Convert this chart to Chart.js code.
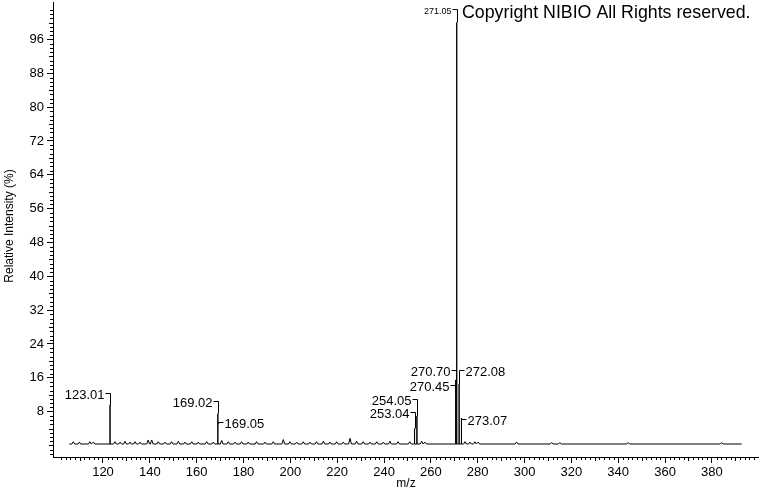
<!DOCTYPE html>
<html>
<head>
<meta charset="utf-8">
<script src="https://cdn.jsdelivr.net/npm/chart.js@4.4.1/dist/chart.umd.min.js"></script>
<style>
  html, body { margin: 0; padding: 0; background: #fff; }
</style>
</head>
<body>
<canvas id="spectrum" width="760" height="492"></canvas>
<script>
// labelled peaks
const peakMz = [123.01, 169.02, 169.05, 253.04, 254.05, 270.45, 270.70, 271.05, 272.08, 273.07];
const peakIntensity = [9.6, 7.5, 5.0, 4.0, 7.0, 14.0, 15.5, 100, 14.5, 6.5];
const peakLabels = ["123.01", "169.02", "169.05", "253.04", "254.05", "270.45", "270.70", "271.05", "272.08", "273.07"];

// small unlabelled bumps on the baseline
const noiseMz = [107.3, 109.9, 114.4, 115.9, 125.1, 127.3, 129.4, 131.5, 133.7, 135.8,
  139.3, 140.8, 143.6, 146.5, 149.3, 152.2, 155.0, 157.9, 160.7, 164.3,
  167.1, 170.7, 173.5, 176.4, 179.2, 182.0, 185.6, 189.2, 192.7, 197.0,
  199.8, 202.7, 205.5, 208.4, 211.2, 214.1, 216.9, 219.8, 222.6, 225.5,
  228.3, 231.1, 234.0, 236.9, 239.7, 242.5, 246.0, 251.0, 256.1, 257.5,
  274.6, 276.7, 278.8, 280.2, 296.6, 311.6, 315.1, 344.3, 384.2];
const noiseIntensity = [0.9, 0.8, 0.9, 0.8, 0.9, 0.8, 1.0, 0.8, 0.9, 0.8,
  1.3, 1.3, 0.9, 0.8, 0.9, 1.0, 0.8, 0.9, 0.8, 0.9,
  0.8, 1.2, 0.9, 0.8, 0.9, 0.8, 0.9, 0.8, 0.9, 1.4,
  0.9, 0.8, 0.9, 0.8, 0.9, 1.0, 0.8, 0.9, 0.8, 1.7,
  1.0, 0.9, 0.8, 0.9, 0.8, 1.0, 0.9, 0.9, 1.0, 0.8,
  0.9, 0.8, 0.9, 0.8, 0.8, 0.7, 0.7, 0.7, 0.7];

const baselineLevel = 0.35;
const profileRange = [105.6, 392.7];

const xTickLabels = [120, 140, 160, 180, 200, 220, 240, 260, 280, 300, 320, 340, 360, 380];
const yTickLabels = [8, 16, 24, 32, 40, 48, 56, 64, 72, 80, 88, 96];

// where each peak label sits (side of the stick, bracket height in %)
const labelLayout = [
  { side: "left", y: 12.3 },
  { side: "left", y: 10.5 },
  { side: "right", y: 5.6 },
  { side: "left", y: 7.9 },
  { side: "left", y: 11.0 },
  { side: "left", y: 14.3 },
  { side: "left", y: 17.8 },
  { side: "left", y: 103.2, small: true },
  { side: "right", y: 17.8 },
  { side: "right", y: 6.3 }
];

const FONT = "'Liberation Sans', Arial, sans-serif";

function buildProfile() {
  const marks = [];
  noiseMz.forEach((m, i) => marks.push({ m, h: noiseIntensity[i], w: 0.6 }));
  peakMz.forEach((m, i) => marks.push({ m, h: peakIntensity[i], w: 0 }));
  marks.sort((a, b) => a.m - b.m);
  const pts = [{ x: profileRange[0], y: baselineLevel }];
  marks.forEach(k => {
    pts.push({ x: k.m - k.w, y: baselineLevel });
    pts.push({ x: k.m, y: k.h });
    pts.push({ x: k.m + k.w, y: baselineLevel });
  });
  pts.push({ x: profileRange[1], y: baselineLevel });
  return pts;
}

const decorations = {
  id: "decorations",
  afterDraw(chart) {
    const ctx = chart.ctx;
    const xs = chart.scales.x, ys = chart.scales.y;
    const area = chart.chartArea;
    ctx.save();
    ctx.strokeStyle = "#000";
    ctx.fillStyle = "#000";
    ctx.lineWidth = 1;

    // minor ticks
    ctx.beginPath();
    for (let v = 100; v <= 398; v += 2) {
      if (v % 20 === 0) continue;
      const px = Math.round(xs.getPixelForValue(v)) + 0.5;
      ctx.moveTo(px, area.bottom);
      ctx.lineTo(px, area.bottom + (v % 10 === 0 ? 4 : 3));
    }
    for (let v = -2; v <= 104; v++) {
      if (v % 8 === 0 && v > 0) continue;
      const py = Math.round(ys.getPixelForValue(v)) + 0.5;
      ctx.moveTo(area.left, py);
      ctx.lineTo(area.left - (v % 4 === 0 ? 4 : 3), py);
    }
    ctx.stroke();

    // peak labels with brackets
    peakLabels.forEach((txt, i) => {
      const lay = labelLayout[i];
      const px = Math.round(xs.getPixelForValue(peakMz[i])) + 0.5;
      const by = Math.round(ys.getPixelForValue(lay.y)) + 0.5;
      const top = ys.getPixelForValue(peakIntensity[i]);
      const dir = lay.side === "left" ? -1 : 1;
      ctx.beginPath();
      ctx.moveTo(px + dir * 5, by);
      ctx.lineTo(px, by);
      if (top > by) ctx.lineTo(px, top);
      ctx.stroke();
      ctx.font = (lay.small ? "9px " : "13px ") + FONT;
      ctx.textAlign = dir < 0 ? "right" : "left";
      ctx.textBaseline = "middle";
      ctx.fillText(txt, px + dir * 6, by + 2);
    });

    // axis titles
    ctx.font = "12px " + FONT;
    ctx.textAlign = "center";
    ctx.textBaseline = "middle";
    ctx.fillText("m/z", 406, 484);
    ctx.save();
    ctx.translate(10, 226);
    ctx.rotate(-Math.PI / 2);
    ctx.fillText("Relative Intensity (%)", 0, 0);
    ctx.restore();

    // copyright
    ctx.font = "17.8px " + FONT;
    ctx.textAlign = "left";
    ctx.textBaseline = "alphabetic";
    ctx.fillText("Copyright NIBIO All Rights reserved.", 462, 18);
    ctx.restore();
  }
};

new Chart(document.getElementById("spectrum"), {
  type: "line",
  data: {
    datasets: [{
      data: buildProfile(),
      borderColor: "#000",
      borderWidth: 1,
      borderJoinStyle: "bevel",
      pointRadius: 0,
      tension: 0,
      fill: false
    }]
  },
  options: {
    responsive: false,
    animation: false,
    layout: { padding: { top: 2, right: 2, left: 0, bottom: 0 } },
    plugins: { legend: { display: false }, tooltip: { enabled: false } },
    scales: {
      x: {
        type: "linear",
        min: 98.65,
        max: 399.7,
        afterBuildTicks: s => { s.ticks = xTickLabels.map(v => ({ value: v })); },
        afterFit: s => { s.height = 35; s.paddingLeft = 0; s.paddingRight = 0; },
        ticks: { color: "#000", font: { family: FONT, size: 13 }, padding: 2, maxRotation: 0, autoSkip: false },
        grid: { drawOnChartArea: false, tickLength: 6, color: "#000" },
        border: { color: "#000" }
      },
      y: {
        type: "linear",
        min: -2.72,
        max: 104.85,
        afterBuildTicks: s => { s.ticks = yTickLabels.map(v => ({ value: v })); },
        afterFit: s => { s.width = 53; s.paddingTop = 0; s.paddingBottom = 0; },
        ticks: { color: "#000", font: { family: FONT, size: 13 }, padding: 3, autoSkip: false },
        grid: { drawOnChartArea: false, tickLength: 6, color: "#000" },
        border: { color: "#000" }
      }
    }
  },
  plugins: [decorations]
});
</script>
</body>
</html>
